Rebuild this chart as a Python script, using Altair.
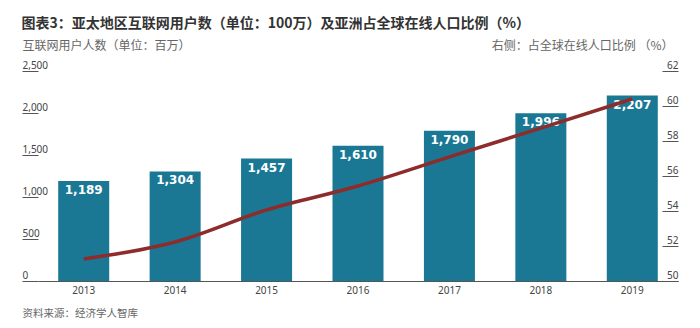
import altair as alt
import pandas as pd

years = ["2013", "2014", "2015", "2016", "2017", "2018", "2019"]
users = [1189, 1304, 1457, 1610, 1790, 1996, 2207]
share = [51.26, 52.23, 54.06, 55.43, 57.09, 58.74, 60.4]

title_text = "图表3：亚太地区互联网用户数（单位：100万）及亚洲占全球在线人口比例（%）"
left_title = "互联网用户人数（单位：百万）"
right_title = "右侧：占全球在线人口比例 （%）"
source_text = "资料来源：经济学人智库"

df = pd.DataFrame({"year": years, "users": users, "share": share})
df["label"] = [f"{v:,}" for v in users]

CJK = "Noto Sans CJK SC"
NUM = "Noto Sans"

x_enc = alt.X(
    "year:N",
    sort=years,
    scale=alt.Scale(paddingInner=0.442, paddingOuter=0.221),
    axis=alt.Axis(
        title=source_text,
        titleFont=CJK,
        titleFontSize=10.5,
        titleFontWeight="normal",
        titleColor="#666666",
        titleAnchor="start",
        titleAlign="left",
        titleBaseline="middle",
        titleX=-16,
        titleY=32,
        labelAngle=0,
        labelFont=NUM,
        labelFontSize=10,
        labelColor="#444444",
        labelPadding=4,
        ticks=False,
        domainColor="#555555",
        domainWidth=1,
        grid=False,
    ),
)

left_scale = alt.Scale(domain=[0, 2500], nice=False, zero=True)
left_axis = alt.Axis(
    orient="left",
    values=[0, 500, 1000, 1500, 2000, 2500],
    format=",.0f",
    title=left_title,
    titleFont=CJK,
    titleFontSize=12,
    titleFontWeight="normal",
    titleColor="#666666",
    titleAngle=0,
    titleAlign="left",
    titleBaseline="middle",
    titleX=-16,
    titleY=-26,
    labelFont=NUM,
    labelFontSize=10,
    labelColor="#444444",
    labelAlign="left",
    labelBaseline="alphabetic",
    labelOffset=-3,
    labelPadding=0,
    tickSize=16,
    tickColor="#555555",
    domain=False,
    grid=False,
)

bars = alt.Chart(df).mark_bar(color="#1a7895").encode(
    x=x_enc, y=alt.Y("users:Q", scale=left_scale, axis=left_axis)
)

labels = alt.Chart(df).mark_text(
    color="white",
    font="DejaVu Sans",
    fontSize=12,
    fontWeight="bold",
    baseline="top",
    dy=4,
).encode(
    x=x_enc,
    y=alt.Y("users:Q", scale=left_scale, axis=None),
    text="label:N",
)

line = alt.Chart(df).mark_line(
    color="#8e2b2b", strokeWidth=3.5, interpolate="monotone"
).encode(
    x=x_enc,
    y=alt.Y(
        "share:Q",
        scale=alt.Scale(domain=[50, 62], nice=False, zero=False),
        axis=alt.Axis(
            orient="right",
            values=[50, 52, 54, 56, 58, 60, 62],
            title=right_title,
            titleFont=CJK,
            titleFontSize=12,
            titleFontWeight="normal",
            titleColor="#666666",
            titleAngle=0,
            titleAlign="right",
            titleBaseline="middle",
            titleX=11,
            titleY=-26,
            offset=-16,
            labelFont=NUM,
            labelFontSize=10,
            labelColor="#444444",
            labelAlign="right",
            labelBaseline="alphabetic",
            labelOffset=-3,
            labelPadding=0,
            tickSize=16,
            tickColor="#555555",
            domain=False,
            grid=False,
        ),
    ),
)

chart = (
    alt.layer(bars, labels, line)
    .resolve_scale(y="independent")
    .resolve_axis(y="independent")
    .properties(
        width=640,
        height=210,
        autosize=alt.AutoSizeParams(type="none"),
        padding={"left": 38, "top": 71, "right": 22, "bottom": 47},
        title=alt.TitleParams(
            text=title_text,
            anchor="start",
            font=CJK,
            fontSize=14,
            fontWeight="bold",
            color="#333333",
            offset=8,
        ),
        background="white",
    )
    .configure_view(stroke=None)
)

chart.save("out.html", embed_options={"renderer": "svg", "actions": False})
